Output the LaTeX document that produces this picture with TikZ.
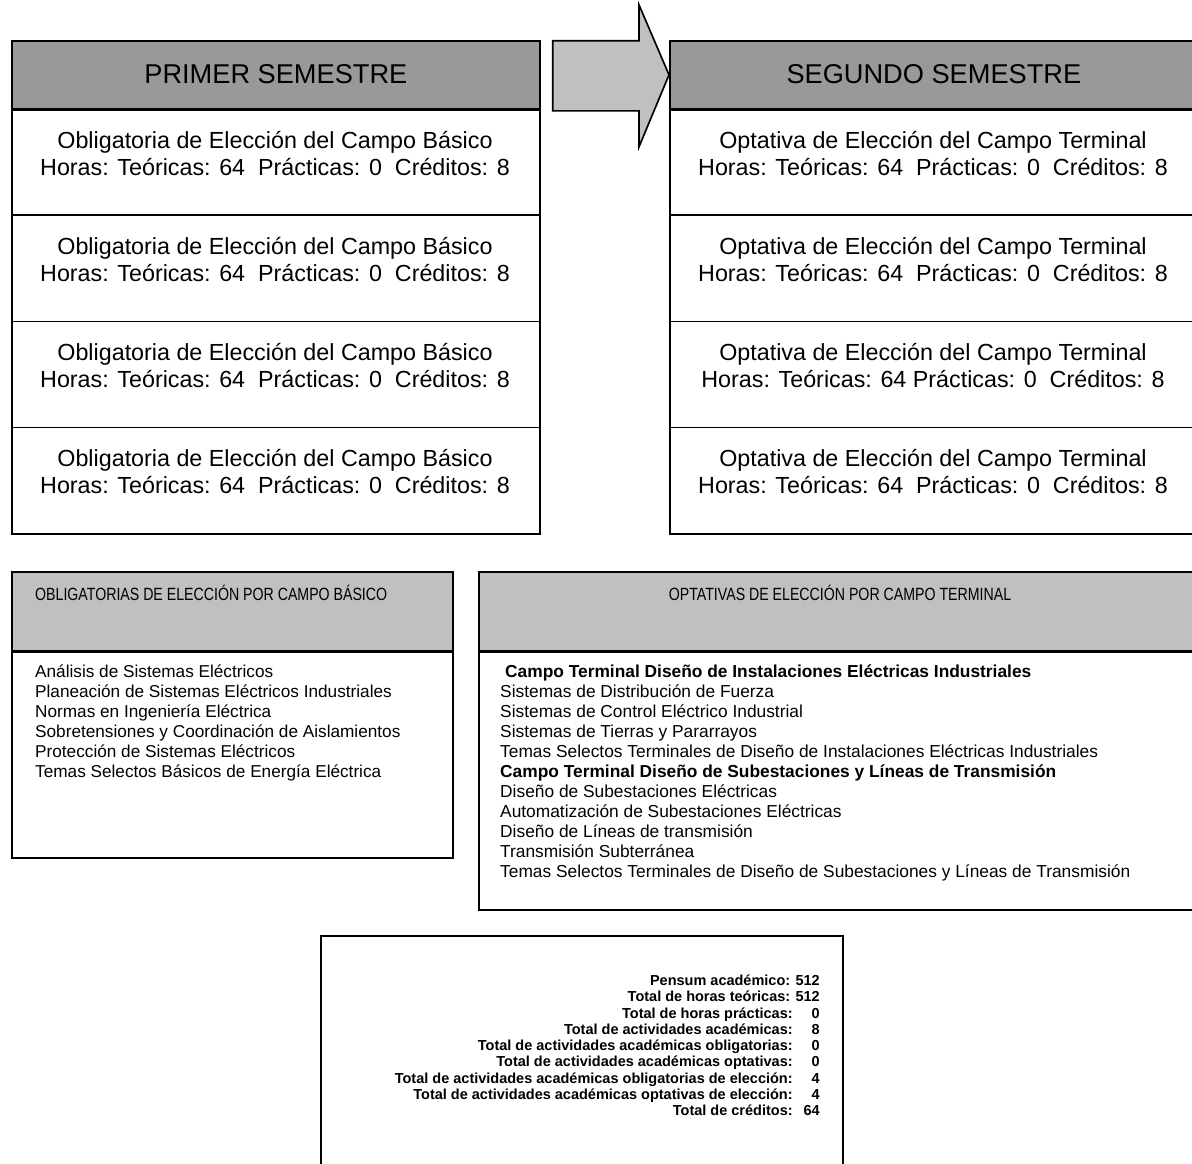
\documentclass[tikz,border=0pt]{standalone}
\usepackage{fontspec}
\setmainfont{Liberation Sans}
\newfontfamily\narrowfont[FakeStretch=0.8]{Liberation Sans}
\usetikzlibrary{calc}
\definecolor{semgray}{HTML}{999999}
\definecolor{boxgray}{HTML}{C0C0C0}
\begin{document}
\begin{tikzpicture}[x=1pt,y=-1pt,
  frame/.style={draw=black,line width=1.7pt},
  semhead/.style={frame,fill=semgray,minimum width=528pt,minimum height=68pt,inner sep=0pt,
    font=\fontsize{27.2}{30}\selectfont},
  sepline/.style={line width=3.2pt},
  cell/.style={frame,fill=white,minimum width=528pt,minimum height=106.25pt,inner sep=0pt},
  celltext/.style={align=center,inner sep=0pt,font=\fontsize{23.3}{27}\selectfont},
  listhead/.style={frame,fill=boxgray,inner sep=0pt},
  listbody/.style={frame,fill=white,inner sep=0pt},
  headtext/.style={inner sep=0pt,font=\narrowfont\fontsize{17.7}{20}\selectfont},
  item/.style={inner sep=0pt,anchor=base west,font=\fontsize{17.2}{20}\selectfont},
  ritem/.style={item,font=\fontsize{17.35}{20}\selectfont},
  blockarrow/.style={frame,fill=boxgray,line join=miter},
  totals/.style={inner sep=0pt,font=\bfseries\fontsize{14.5}{16.25}\selectfont}]
\useasboundingbox (0,0) rectangle (1192,1164);
\clip (0,0) rectangle (1192,1164);

% ---------- first semester ----------
\node[semhead,anchor=north west] (h1) at (11,40) {\raisebox{2pt}{PRIMER SEMESTRE}};
\foreach \r in {1,...,4}{
  \node[cell,anchor=north west] (a\r) at (11,{108+106.25*(\r-1)}) {};
  \node[celltext] (ta\r) at (275,{153.5+106*(\r-1)})
    {Obligatoria de Elección del Campo Básico\\Horas: Teóricas: 64\ \ Prácticas: 0\ \ Créditos: 8};
}
\draw[sepline] (h1.south west) -- (h1.south east);

% ---------- second semester ----------
\node[semhead,anchor=north west] (h2) at (669,40) {\raisebox{2pt}{SEGUNDO SEMESTRE}};
\foreach \r in {1,2,4}{
  \node[cell,anchor=north west] (b\r) at (669,{108+106.25*(\r-1)}) {};
  \node[celltext] (tb\r) at (933,{153.5+106*(\r-1)})
    {Optativa de Elección del Campo Terminal\\Horas: Teóricas: 64\ \ Prácticas: 0\ \ Créditos: 8};
}
\node[cell,anchor=north west] (b3) at (669,{108+106.25*2}) {};
\node[celltext] (tb3) at (933,{153.5+106*2})
  {Optativa de Elección del Campo Terminal\\Horas: Teóricas: 64 Prácticas: 0\ \ Créditos: 8};
\draw[sepline] (h2.south west) -- (h2.south east);

% ---------- block arrow between the semesters ----------
\draw[blockarrow]
  ($(h1.east)+(12,-34)$) -- ($(h2.west)+(-30,-34)$) -- ($(h2.west)+(-30,-70)$)
  -- (h2.west) -- ($(h2.west)+(-30,72)$) -- ($(h2.west)+(-30,36)$)
  -- ($(h1.east)+(12,36)$) -- cycle;

% ---------- basic field list ----------
\node[listbody,anchor=north west,minimum width=441pt,minimum height=207pt] (lb) at (11,650) {};
\node[listhead,anchor=north west,minimum width=441pt,minimum height=79pt] (lh) at (11,571) {};
\draw[sepline] (lh.south west) -- (lh.south east);
\node[headtext,anchor=west] (lt) at (35,593) {OBLIGATORIAS DE ELECCIÓN POR CAMPO BÁSICO};
\foreach \t [count=\i] in {
  Análisis de Sistemas Eléctricos,
  Planeación de Sistemas Eléctricos Industriales,
  Normas en Ingeniería Eléctrica,
  Sobretensiones y Coordinación de Aislamientos,
  Protección de Sistemas Eléctricos,
  Temas Selectos Básicos de Energía Eléctrica}
  \node[item] (l\i) at (35,{677+20*(\i-1)}) {\t};

% ---------- terminal field list ----------
\node[listbody,anchor=north west,minimum width=724pt,minimum height=259pt] (rb) at (478,650) {};
\node[listhead,anchor=north west,minimum width=724pt,minimum height=79pt] (rh) at (478,571) {};
\draw[sepline] (rh.south west) -- (rh.south east);
\node[headtext] (rt) at (840,593) {OPTATIVAS DE ELECCIÓN POR CAMPO TERMINAL};
\node[ritem,font=\bfseries\fontsize{17.35}{20}\selectfont] (r1) at (505,677)
  {Campo Terminal Diseño de Instalaciones Eléctricas Industriales};
\foreach \t [count=\i from 2] in {
  Sistemas de Distribución de Fuerza,
  Sistemas de Control Eléctrico Industrial,
  Sistemas de Tierras y Pararrayos,
  Temas Selectos Terminales de Diseño de Instalaciones Eléctricas Industriales,
  {\bfseries Campo Terminal Diseño de Subestaciones y Líneas de Transmisión},
  Diseño de Subestaciones Eléctricas,
  Automatización de Subestaciones Eléctricas,
  Diseño de Líneas de transmisión,
  Transmisión Subterránea,
  Temas Selectos Terminales de Diseño de Subestaciones y Líneas de Transmisión}
  \node[ritem] (r\i) at (500,{677+20*(\i-1)}) {\t};

% ---------- totals ----------
\node[frame,fill=white,anchor=north west,minimum width=522pt,minimum height=260pt] (sum) at (320,935) {};
\node[totals,anchor=north east] (st) at (820,974) {%
  \begin{tabular}{@{}r@{\hspace{11pt}}r@{}}
  \multicolumn{2}{@{}r@{}}{Pensum académico: 512}\\
  \multicolumn{2}{@{}r@{}}{Total de horas teóricas: 512}\\
  Total de horas prácticas: & 0\\
  Total de actividades académicas: & 8\\
  Total de actividades académicas obligatorias: & 0\\
  Total de actividades académicas optativas: & 0\\
  Total de actividades académicas obligatorias de elección: & 4\\
  Total de actividades académicas optativas de elección: & 4\\
  Total de créditos: & 64
  \end{tabular}};
\end{tikzpicture}
\end{document}
